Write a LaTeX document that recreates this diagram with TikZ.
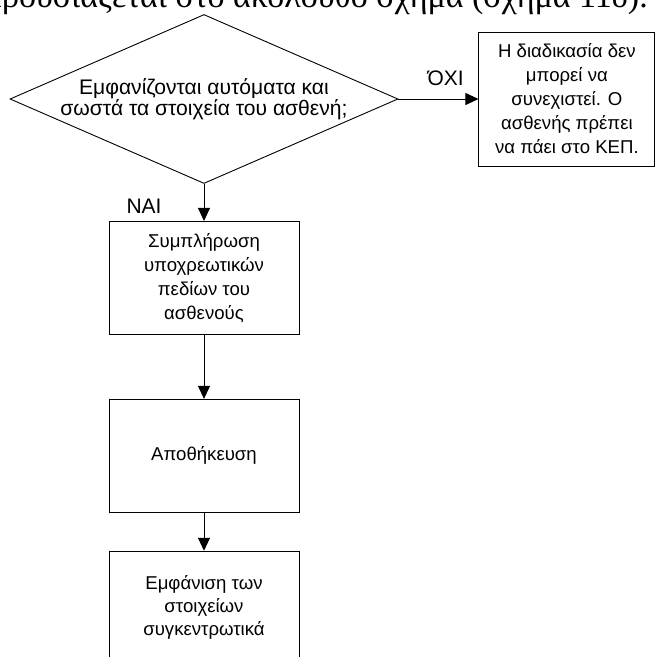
\documentclass[tikz,border=0pt]{standalone}
\usepackage{fontspec}
\setmainfont{Liberation Sans}
\newfontfamily\bodyserif{Liberation Serif}
\usetikzlibrary{arrows.meta,positioning,shapes.geometric}

\begin{document}
\begin{tikzpicture}[
  x=1pt, y=1pt,
  node distance=37pt and 80pt,
  every node/.style={font=\fontsize{18.6}{24}\selectfont},
  box/.style={draw=black, line width=0.9pt, align=center, minimum width=190pt, minimum height=113pt, inner sep=0pt},
  ask/.style={draw=black, line width=0.9pt, align=center, diamond, aspect=2.3, minimum width=388pt, minimum height=169pt, inner sep=0pt, font=\fontsize{21.1}{21}\selectfont},
  lab/.style={inner sep=0pt, font=\fontsize{21}{24}\selectfont},
  arr/.style={-{Triangle[length=13pt,width=12pt]}, line width=0.9pt, draw=black}
]
\useasboundingbox (0,0) rectangle (656,-657);
\begin{scope}
\clip (0,0) rectangle (656,-657);
\node[inner sep=0pt, anchor=base east, font=\bodyserif\fontsize{34}{40}\selectfont] (caption) at (648,-7) {παρουσιάζεται στο ακόλουθο σχήμα (σχήμα 11δ).};
\node[ask] (check) at (204,-99) {Εμφανίζονται αυτόματα και\\σωστά τα στοιχεία του ασθενή;};
\node[box, minimum width=176pt, minimum height=134pt, right=of check] (stop) {Η διαδικασία δεν\\μπορεί να\\συνεχιστεί. Ο\\ασθενής πρέπει\\να πάει στο ΚΕΠ.};
\node[box, below=of check] (fill) {Συμπλήρωση\\υποχρεωτικών\\πεδίων του\\ασθενούς};
\node[box, below=64pt of fill] (save) {Αποθήκευση};
\node[box, below=38pt of save, font=\fontsize{18.6}{23}\selectfont] (show) {Εμφάνιση των\\στοιχείων\\συγκεντρωτικά};
\draw[arr] (check) -- node[lab, pos=0.59, above=13pt] {ΌΧΙ} (stop);
\draw[arr] (check) -- node[lab, pos=0.61, left=42pt] {ΝΑΙ} (fill);
\draw[arr] (fill) -- (save);
\draw[arr] (save) -- (show);
\end{scope}
\end{tikzpicture}
\end{document}
